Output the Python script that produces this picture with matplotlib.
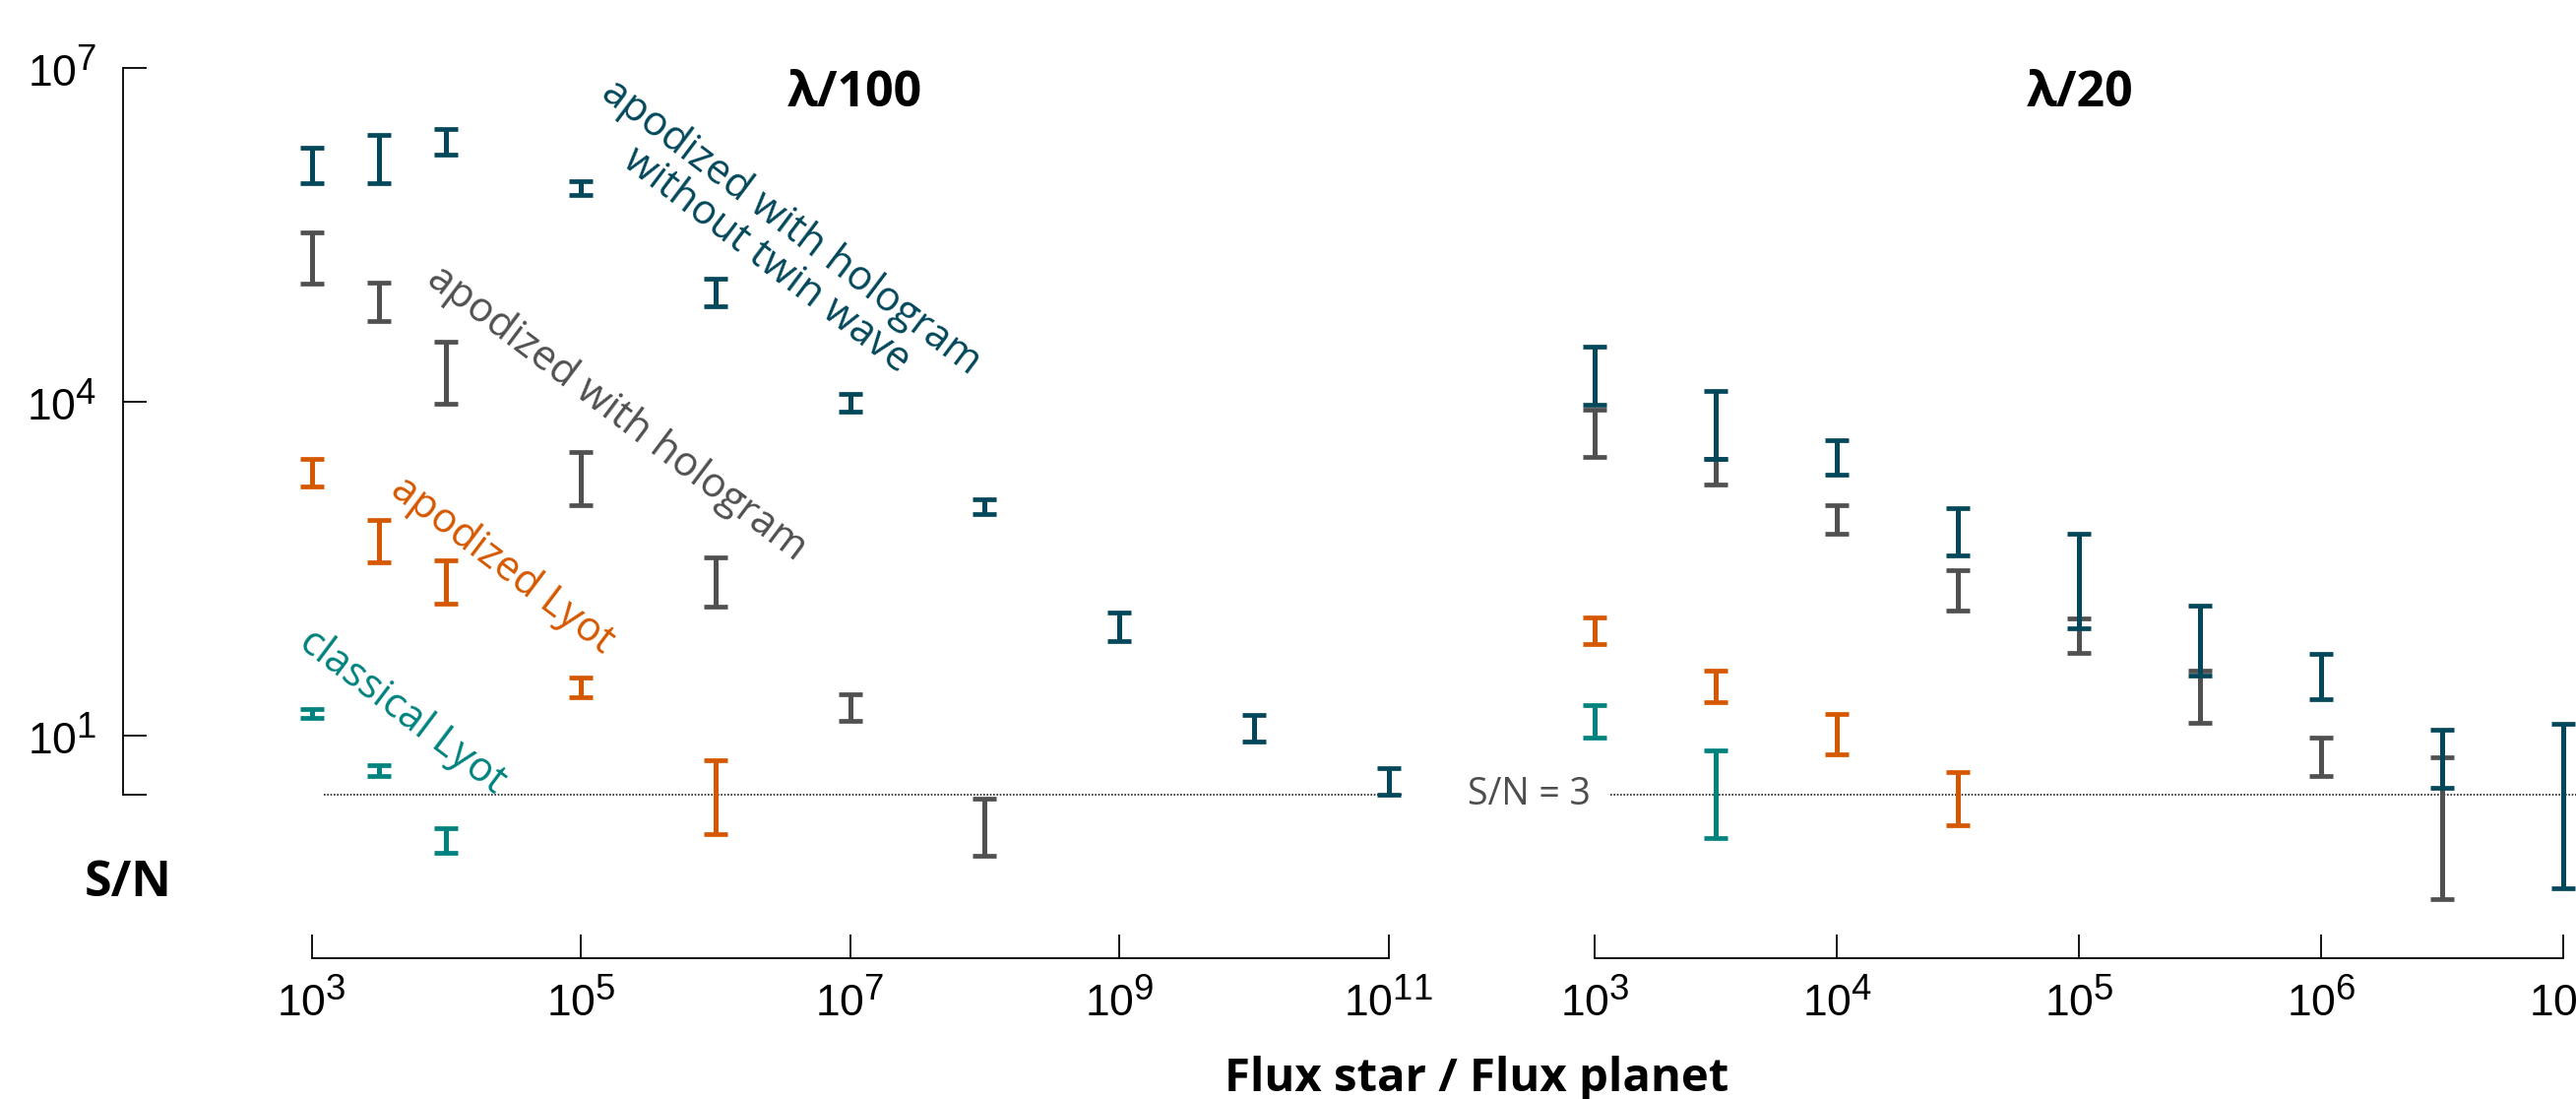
import numpy as np
import matplotlib
matplotlib.use('Agg')
import matplotlib.pyplot as plt
import matplotlib._mathtext as _mt
from matplotlib.ticker import FixedLocator, FixedFormatter, NullLocator

# larger superscripts, as in the reference tick labels
_mt.SHRINK_FACTOR = 0.82

plt.rcParams['font.family'] = ['Liberation Sans', 'DejaVu Sans']
plt.rcParams['mathtext.fontset'] = 'custom'
plt.rcParams['mathtext.rm'] = 'Liberation Sans'
plt.rcParams['mathtext.it'] = 'Liberation Sans:italic'
plt.rcParams['mathtext.bf'] = 'Liberation Sans:bold'

# ---------------- data ----------------
# left panel (lambda/100)
flux_l = [1e3, 3162, 1e4, 1e5, 1e6, 1e7, 1e8, 1e9, 1e10, 1e11]
notwin_l_lo = [9.3e5, 9.3e5, 1.67e6, 7.2e5, 7.3e4, 8.2e3, 980, 71, 9.0, 3.0]
notwin_l_hi = [1.9e6, 2.5e6, 2.8e6, 9.5e5, 1.27e5, 1.18e4, 1340, 128, 15.4, 5.2]
holo_l_lo = [1.15e5, 5.3e4, 9.7e3, 1190, 146, 13.6, 0.85]
holo_l_hi = [3.3e5, 1.18e5, 3.47e4, 3540, 401, 23.7, 2.77]
apod_l_lo = [1750, 363, 154, 22.4, 1.32]
apod_l_hi = [3080, 871, 375, 33.3, 6.07]
classic_l_lo = [14.5, 4.36, 0.90]
classic_l_hi = [17.6, 5.52, 1.49]

# right panel (lambda/20)
flux_r = [1e3, 3162, 1e4, 31623, 1e5, 316228, 1e6, 3162278, 1e7]
notwin_r_lo = [9.4e3, 3.1e3, 2.21e3, 415, 92, 35.2, 21.3, 3.40, 0.43]
notwin_r_hi = [3.16e4, 1.26e4, 4.52e3, 1110, 655, 148, 55.2, 11.4, 12.8]
holo_r_lo = [3220, 1830, 661, 133, 56.1, 13.2, 4.39, 0.345]
holo_r_hi = [8600, 3090, 1190, 311, 115, 39.1, 9.77, 6.47]
apod_r_lo = [66.4, 20.0, 6.85, 1.58]
apod_r_hi = [116, 39.1, 15.8, 4.73]
classic_r_lo = [9.77, 1.22]
classic_r_hi = [19.1, 7.46]

sn_threshold = 3

xticks_l = [1e3, 1e5, 1e7, 1e9, 1e11]
xticklabels_l = [r'$10^{3}$', r'$10^{5}$', r'$10^{7}$', r'$10^{9}$', r'$10^{11}$']
xticks_r = [1e3, 1e4, 1e5, 1e6, 1e7]
xticklabels_r = [r'$10^{3}$', r'$10^{4}$', r'$10^{5}$', r'$10^{6}$', r'$10^{7}$']
yticks = [3, 10, 1e4, 1e7]
yticklabels = ['', r'$10^{1}$', r'$10^{4}$', r'$10^{7}$']

C_NOTWIN = '#03475a'
C_HOLO = '#505050'
C_APOD = '#d55800'
C_CLASSIC = '#00827e'

labels = {
    'notwin': 'apodized with hologram\nwithout twin wave',
    'holo': 'apodized with hologram',
    'apod': 'apodized Lyot',
    'classic': 'classical Lyot',
}

# ---------------- figure ----------------
W, H = 2617, 1116
fig = plt.figure(figsize=(W / 100, H / 100), dpi=100)

def px_axes(left, right, top, bottom):
    return fig.add_axes([left / W, 1 - bottom / H, (right - left) / W, (bottom - top) / H])

axl = px_axes(125, 1440, 0, 973)
axr = px_axes(1480, 2617, 0, 973)

ylim = (10 ** -0.994, 10 ** 7.609)
axl.set_xscale('log'); axl.set_yscale('log')
axr.set_xscale('log'); axr.set_yscale('log')
axl.set_xlim(10 ** 1.600, 10 ** 11.213)
axr.set_xlim(10 ** 2.4293, 10 ** 7.0512)
axl.set_ylim(*ylim); axr.set_ylim(*ylim)

def bars(ax, x, lo, hi, color):
    lo = np.asarray(lo, float); hi = np.asarray(hi, float)
    mid = np.sqrt(lo * hi)
    ax.errorbar(x[:len(lo)], mid, yerr=[mid - lo, hi - mid], fmt='none',
                ecolor=color, elinewidth=3.6, capsize=8.6, capthick=3.4,
                clip_on=False)

bars(axl, flux_l, classic_l_lo, classic_l_hi, C_CLASSIC)
bars(axl, flux_l, apod_l_lo, apod_l_hi, C_APOD)
bars(axl, flux_l, holo_l_lo, holo_l_hi, C_HOLO)
bars(axl, flux_l, notwin_l_lo, notwin_l_hi, C_NOTWIN)

bars(axr, flux_r, classic_r_lo, classic_r_hi, C_CLASSIC)
bars(axr, flux_r, apod_r_lo, apod_r_hi, C_APOD)
bars(axr, flux_r, holo_r_lo, holo_r_hi, C_HOLO)
bars(axr, flux_r, notwin_r_lo, notwin_r_hi, C_NOTWIN)

# S/N = 3 dotted lines
axl.hlines(sn_threshold, 10 ** 3.09, 10 ** 11.095, colors='#222222',
           linestyles=(0, (1, 1)), linewidth=1.2, zorder=0)
axr.hlines(sn_threshold, 10 ** 3.063, 10 ** 7.06, colors='#222222',
           linestyles=(0, (1, 1)), linewidth=1.2, zorder=0)
axr.text(10 ** 2.982, sn_threshold, 'S/N = 3', ha='right', va='center',
         fontsize=27, color='#4d4d4d', family=['Open Sans', 'DejaVu Sans'])

# spines & ticks
for ax in (axl, axr):
    ax.spines['top'].set_visible(False)
    ax.spines['right'].set_visible(False)
    for s in ax.spines.values():
        s.set_linewidth(1.3)
    ax.xaxis.set_minor_locator(NullLocator())
    ax.yaxis.set_minor_locator(NullLocator())
    ax.tick_params(axis='both', which='major', direction='in', length=17.3,
                   width=1.3, labelsize=32, colors='black')
    ax.tick_params(axis='x', pad=15)
    ax.tick_params(axis='y', pad=19)
    ax.patch.set_alpha(0)

axl.spines['left'].set_bounds(3, 1e7)
axl.spines['bottom'].set_bounds(1e3, 1e11)
axl.xaxis.set_major_locator(FixedLocator(xticks_l))
axl.xaxis.set_major_formatter(FixedFormatter(xticklabels_l))
axl.yaxis.set_major_locator(FixedLocator(yticks))
axl.yaxis.set_major_formatter(FixedFormatter(yticklabels))

axr.spines['left'].set_visible(False)
axr.spines['bottom'].set_bounds(1e3, 1e7)
axr.xaxis.set_major_locator(FixedLocator(xticks_r))
axr.xaxis.set_major_formatter(FixedFormatter(xticklabels_r))
axr.tick_params(axis='y', left=False, labelleft=False)

# series labels (rotated)
lab_font = ['Open Sans', 'DejaVu Sans']
axl.text(10 ** 6.47, 10 ** 5.42, labels['notwin'], color=C_NOTWIN, fontsize=30,
         rotation=-37, rotation_mode='anchor', ha='center', va='center',
         multialignment='center', family=lab_font, linespacing=1.0)
axl.text(10 ** 5.27, 10 ** 3.896, labels['holo'], color=C_HOLO, fontsize=30,
         rotation=-37, rotation_mode='anchor', ha='center', va='center', family=lab_font)
axl.text(10 ** 4.414, 10 ** 2.534, labels['apod'], color=C_APOD, fontsize=30,
         rotation=-37, rotation_mode='anchor', ha='center', va='center', family=lab_font)
axl.text(10 ** 3.672, 10 ** 1.217, labels['classic'], color=C_CLASSIC, fontsize=30,
         rotation=-37, rotation_mode='anchor', ha='center', va='center', family=lab_font)

# titles and axis labels
bold_font = ['Open Sans', 'DejaVu Sans']
fig.text(868 / W, 1 - 108 / H, 'λ/100', ha='center', va='baseline', fontsize=36,
         fontweight='bold', family=bold_font)
fig.text(2113 / W, 1 - 108 / H, 'λ/20', ha='center', va='baseline', fontsize=36,
         fontweight='bold', family=bold_font)
fig.text(130 / W, 1 - 910 / H, 'S/N', ha='center', va='baseline', fontsize=36,
         fontweight='bold', family=bold_font)
fig.text(1500 / W, 1 - 1108 / H, 'Flux star / Flux planet', ha='center', va='baseline',
         fontsize=34, fontweight='bold', family=bold_font)

fig.savefig('out.png', dpi=100, facecolor='white')
